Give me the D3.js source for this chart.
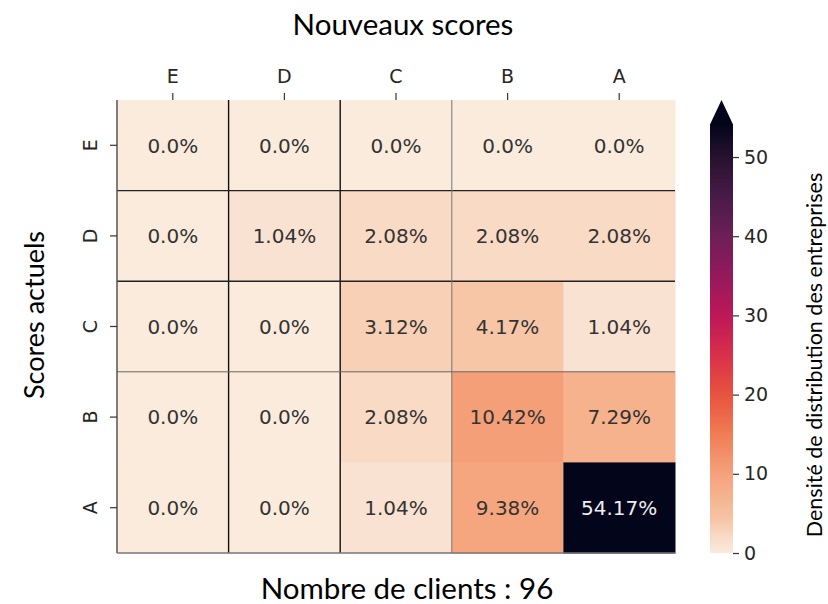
<!DOCTYPE html>
<html>
<head>
<meta charset="utf-8">
<script src="https://cdn.jsdelivr.net/npm/d3@7"></script>
<style>
  body { margin: 0; background: #fff; }
  svg text { fill: #262626; }
</style>
</head>
<body>
<svg id="chart" width="828" height="604"></svg>
<script>
// data
var newScores = ["E", "D", "C", "B", "A"];      // columns
var currentScores = ["E", "D", "C", "B", "A"];  // rows
var density = [
  [0, 0, 0, 0, 0],
  [0, 1.04, 2.08, 2.08, 2.08],
  [0, 0, 3.12, 4.17, 1.04],
  [0, 0, 2.08, 10.42, 7.29],
  [0, 0, 1.04, 9.38, 54.17]
];
var cbarTicks = [0, 10, 20, 30, 40, 50];
var nbClients = 96;
var boldBounds = [1, 2];  // black separators
var thinBounds = [3];     // grey separator

var svg = d3.select("#chart");
var uiFont = "Lato, 'Open Sans', sans-serif";
var tickFont = "'DejaVu Sans', sans-serif";

var hm = {left: 117, right: 675, top: 100, bottom: 553};

var x = d3.scaleBand().domain(newScores).range([hm.left, hm.right]);
var y = d3.scaleBand().domain(currentScores).range([hm.top, hm.bottom]);

var vmax = d3.max(density, function(r) { return d3.max(r); });

// rocket_r-like colormap, as fraction of vmax
var cmapPos = [0, 0.04, 0.08, 0.135, 0.19, 0.28, 0.37, 0.46, 0.55, 0.65, 0.74, 0.83, 0.92, 1];
var cmapCol = ["#faebdd", "#f8d9c4", "#f6c4a5", "#f5b28d", "#f5a079", "#f07b55", "#e8533e",
  "#d9304a", "#be1858", "#93195c", "#6c1f56", "#481b48", "#27122f", "#03051a"];
var cmap = d3.scaleLinear().domain(cmapPos).range(cmapCol).interpolate(d3.interpolateRgb);
var color = function(v) { return cmap(Math.min(v, vmax) / vmax); };

var cells = [];
density.forEach(function(row, i) {
  row.forEach(function(v, j) {
    cells.push({row: currentScores[i], col: newScores[j], v: v});
  });
});

svg.append("g").selectAll("rect")
  .data(cells).enter().append("rect")
  .attr("x", function(d) { return x(d.col); })
  .attr("y", function(d) { return y(d.row); })
  .attr("width", x.bandwidth() + 0.5)
  .attr("height", y.bandwidth() + 0.5)
  .attr("fill", function(d) { return color(d.v); });

svg.append("g").selectAll("text")
  .data(cells).enter().append("text")
  .attr("x", function(d) { return x(d.col) + x.bandwidth() / 2; })
  .attr("y", function(d) { return y(d.row) + y.bandwidth() / 2; })
  .attr("dy", "0.36em")
  .attr("text-anchor", "middle")
  .style("font-family", tickFont)
  .style("font-size", "20px")
  .style("fill", function(d) { return d.v > vmax * 0.6 ? "#eeeeee" : "#333333"; })
  .text(function(d) { return (d.v === 0 ? "0.0" : d.v) + "%"; });

// separators
var sep = svg.append("g");
boldBounds.forEach(function(k) {
  var xx = hm.left + k * x.step(), yy = hm.top + k * y.step();
  sep.append("line").attr("x1", xx).attr("x2", xx).attr("y1", hm.top).attr("y2", hm.bottom)
    .attr("stroke", "#111").attr("stroke-width", 1.4);
  sep.append("line").attr("x1", hm.left).attr("x2", hm.right).attr("y1", yy).attr("y2", yy)
    .attr("stroke", "#222").attr("stroke-width", 1.4);
});
thinBounds.forEach(function(k) {
  var xx = hm.left + k * x.step(), yy = hm.top + k * y.step();
  sep.append("line").attr("x1", xx).attr("x2", xx).attr("y1", hm.top).attr("y2", hm.bottom)
    .attr("stroke", "#777").attr("stroke-width", 1);
  sep.append("line").attr("x1", hm.left).attr("x2", hm.right).attr("y1", yy).attr("y2", yy)
    .attr("stroke", "#666").attr("stroke-width", 1);
});
// frame left + bottom
sep.append("line").attr("x1", hm.left).attr("x2", hm.left).attr("y1", hm.top).attr("y2", hm.bottom)
  .attr("stroke", "#555").attr("stroke-width", 1.5);
sep.append("line").attr("x1", hm.left).attr("x2", hm.right).attr("y1", hm.bottom).attr("y2", hm.bottom)
  .attr("stroke", "#777").attr("stroke-width", 1.5);

// axes
var xAxis = svg.append("g").attr("transform", "translate(0," + hm.top + ")")
  .call(d3.axisTop(x).tickSize(7).tickPadding(10));
var yAxis = svg.append("g").attr("transform", "translate(" + hm.left + ",0)")
  .call(d3.axisLeft(y).tickSize(7).tickPadding(6));
[xAxis, yAxis].forEach(function(a) {
  a.select(".domain").remove();
  a.selectAll(".tick line").attr("stroke", "#333").attr("stroke-width", 1.2);
  a.selectAll(".tick text").style("font-family", tickFont).style("font-size", "19px").attr("fill", "#262626");
});
yAxis.selectAll(".tick text")
  .attr("text-anchor", "middle")
  .attr("dy", null)
  .attr("transform", function() {
    var tx = +d3.select(this).attr("x");
    return "translate(" + (tx - 7) + ",0) rotate(-90)";
  })
  .attr("x", 0);

// colorbar
var cb = {left: 710, width: 23, top: 124, bottom: 553, tip: 100};
var cbScale = d3.scaleLinear().domain([0, vmax]).range([cb.bottom, cb.top]);
var grad = svg.append("defs").append("linearGradient")
  .attr("id", "cbgrad").attr("x1", 0).attr("y1", 1).attr("x2", 0).attr("y2", 0);
d3.range(0, 1.0001, 0.02).forEach(function(t) {
  grad.append("stop").attr("offset", t).attr("stop-color", color(t * vmax));
});
svg.append("rect")
  .attr("x", cb.left).attr("y", cb.top)
  .attr("width", cb.width).attr("height", cb.bottom - cb.top)
  .attr("fill", "url(#cbgrad)");
svg.append("path")
  .attr("d", "M" + cb.left + "," + (cb.top + 0.5) + "L" + (cb.left + cb.width / 2) + "," + cb.tip +
    "L" + (cb.left + cb.width) + "," + (cb.top + 0.5) + "Z")
  .attr("fill", color(vmax));
var cbAxis = svg.append("g").attr("transform", "translate(" + (cb.left + cb.width) + ",0)")
  .call(d3.axisRight(cbScale).tickValues(cbarTicks).tickSize(6).tickPadding(5));
cbAxis.select(".domain").remove();
cbAxis.selectAll(".tick line").attr("stroke", "#333").attr("stroke-width", 1.2);
cbAxis.selectAll(".tick text").style("font-family", tickFont).style("font-size", "19px").attr("fill", "#262626");

// titles
svg.append("text")
  .attr("x", 403).attr("y", 35)
  .attr("text-anchor", "middle")
  .style("font-family", uiFont).style("font-size", "29.5px").style("fill", "#000")
  .text("Nouveaux scores");
svg.append("text")
  .attr("transform", "translate(44,315) rotate(-90)")
  .attr("text-anchor", "middle")
  .style("font-family", uiFont).style("font-size", "27px").style("fill", "#000")
  .text("Scores actuels");
svg.append("text")
  .attr("x", 407).attr("y", 599)
  .attr("text-anchor", "middle")
  .style("font-family", uiFont).style("font-size", "29.5px").style("fill", "#000")
  .text("Nombre de clients : " + nbClients);
svg.append("text")
  .attr("transform", "translate(822,355) rotate(-90)")
  .attr("text-anchor", "middle")
  .style("font-family", uiFont).style("font-size", "21.5px").style("fill", "#000")
  .text("Densité de distribution des entreprises");
</script>
</body>
</html>
